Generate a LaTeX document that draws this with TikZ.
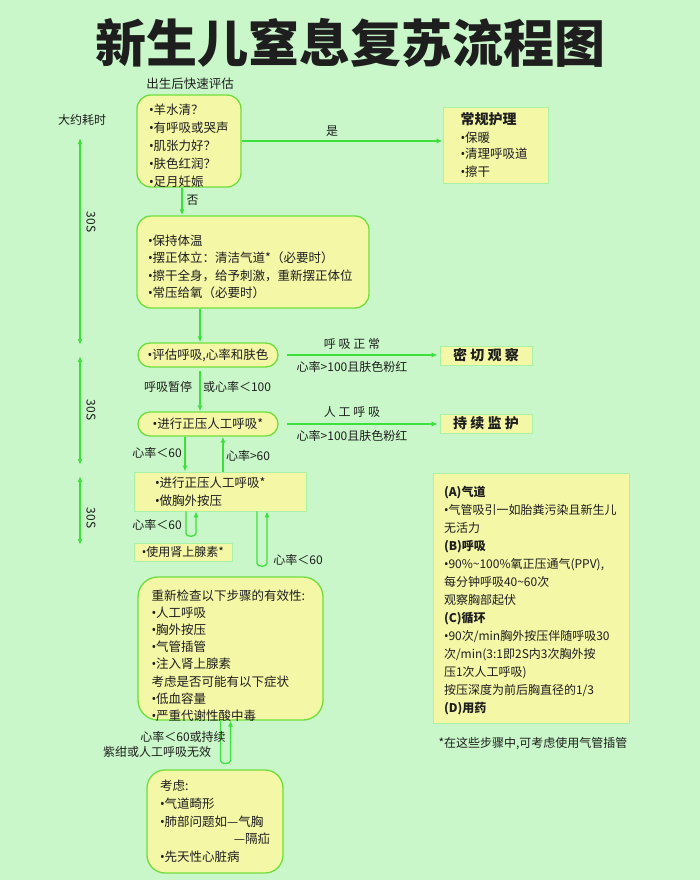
\documentclass[tikz,border=0pt]{standalone}
\usepackage{fontspec}
\setmainfont{Noto Sans CJK SC}
\newfontfamily\latinf{Noto Sans}
\newcommand{\dotb}{{\latinf •}}
\newcommand{\liftend}[1]{\par\vspace*{-#1}}
\usetikzlibrary{shapes,shapes.misc,arrows.meta}
\definecolor{bgg}{RGB}{201,247,201}
\definecolor{boxy}{RGB}{244,247,166}
\definecolor{edgeg}{RGB}{110,222,60}
\definecolor{arrg}{RGB}{60,225,60}
\definecolor{inkk}{RGB}{30,30,30}

\begin{document}
\begin{tikzpicture}[x=1pt,y=-1pt,>={Latex[length=6pt,width=5pt]},
  every node/.append style={font=\fontsize{12}{18}\selectfont,text=inkk},
  flow/.style={->,draw=arrg,line width=1.3pt}]
  \tikzstyle{rbox} = [draw=edgeg,line width=1.3pt,fill=boxy,rounded corners=14pt,align=left]
  \tikzstyle{pill} = [draw=edgeg,line width=1.3pt,fill=boxy,rounded rectangle,minimum width=140pt,minimum height=24pt,inner sep=0pt]
  \tikzstyle{sbox} = [draw=arrg!45,line width=0.7pt,fill=boxy,align=left]
  \tikzstyle{word} = [inner sep=1pt]
  \fill[bgg] (0,0) rectangle (700,880);
  \useasboundingbox (0,0) rectangle (700,880);
  % title
  \node (t_0) [word] at (350,43) {\fontsize{51}{51}\selectfont\bfseries 新生儿窒息复苏流程图};
  % main column
  \node (l_0) [word] at (190,84) {\fontsize{12.5}{14}\selectfont 出生后快速评估};
  \node (b_1) [rbox,minimum width=104pt,minimum height=92pt,text width=80pt,inner xsep=12pt]
    at (189,141) {\fontsize{12.5}{18}\selectfont \dotb{}羊水清？\\\dotb{}有呼吸或哭声\\\dotb{}肌张力好？\\\dotb{}肤色红润？\\\dotb{}足月妊娠\liftend{10pt}};
  \node (b_2) [rbox,minimum width=232pt,minimum height=92pt,text width=210pt,inner xsep=11pt]
    at (253,262) {\fontsize{12.5}{17.5}\selectfont \dotb{}保持体温\\\dotb{}摆正体立：清洁气道*（必要时）\\\dotb{}擦干全身，给予刺激，重新摆正体位\\\dotb{}常压给氧（必要时）\liftend{10pt}};
  \node (b_3) [pill] at (208,355) {\fontsize{12.5}{14}\selectfont \dotb{}评估呼吸,心率和肤色};
  \node (b_4) [pill] at (208,424) {\fontsize{12.5}{14}\selectfont \dotb{}进行正压人工呼吸*};
  \node (b_5) [sbox,minimum width=172pt,minimum height=39pt,text width=130pt,inner xsep=21pt]
    at (220,491.5) {\fontsize{12.5}{19}\selectfont \dotb{}进行正压人工呼吸*\\\dotb{}做胸外按压};
  \node (b_6) [sbox,minimum width=98pt,minimum height=18pt,inner sep=0pt] at (183,552) {\fontsize{12}{14}\selectfont \dotb{}使用肾上腺素*};
  \node (b_7) [rbox,rounded corners=20pt,minimum width=185pt,minimum height=143pt,text width=158pt,inner xsep=13.5pt]
    at (230.5,648.5) {\fontsize{12.5}{17.2}\selectfont 重新检查以下步骤的有效性:\\\dotb{}人工呼吸\\\dotb{}胸外按压\\\dotb{}气管插管\\\dotb{}注入肾上腺素\\考虑是否可能有以下症状\\\dotb{}低血容量\\\dotb{}严重代谢性酸中毒\liftend{14pt}};
  \node (b_8) [rbox,rounded corners=18pt,minimum width=136pt,minimum height=103pt,text width=110pt,inner xsep=13pt]
    at (215,821.5) {\fontsize{12.5}{17.8}\selectfont 考虑:\\\dotb{}气道畸形\\\dotb{}肺部问题如—气胸\\\hspace*{\fill}—隔疝\\\dotb{}先天性心脏病};
  % right column
  \node (r_1) [sbox,minimum width=105pt,minimum height=76pt,text width=70pt,inner xsep=17.5pt]
    at (495.5,145) {\fontsize{14}{19}\selectfont\bfseries 常规护理\\[2pt]\fontsize{12.5}{16}\selectfont\mdseries \dotb{}保暖\\\dotb{}清理呼吸道\\\dotb{}擦干};
  \node (m_1) [sbox,minimum width=92pt,minimum height=19pt,inner sep=0pt] at (486,355.5) {\fontsize{14}{16}\selectfont\bfseries 密 切 观 察};
  \node (m_2) [sbox,minimum width=92pt,minimum height=19pt,inner sep=0pt] at (486,423.5) {\fontsize{14}{16}\selectfont\bfseries 持 续 监 护};
  \node (r_2) [sbox,minimum width=196pt,minimum height=250pt,text width=174pt,inner xsep=11pt]
    at (531,598) {\fontsize{12}{18}\selectfont \textbf{(A)气道}\\\dotb{}气管吸引一如胎粪污染且新生儿\\无活力\\\textbf{(B)呼吸}\\\dotb{}90\%\textasciitilde100\%氧正压通气(PPV),\\每分钟呼吸40\textasciitilde60次\\观察胸部起伏\\\textbf{(C)循环}\\\dotb{}90次/min胸外按压伴随呼吸30\\次/min(3:1即2S内3次胸外按\\压1次人工呼吸)\\按压深度为前后胸直径的1/3\\\textbf{(D)用药}\liftend{6pt}};
  \node (r_3) [word] at (533,744) {*在这些步骤中,可考虑使用气管插管};
  % connectors
  \draw[flow] (b_1.east) -- (b_1.east -| r_1.west) node[word,pos=0.45,above=3pt] (l_1) {是};
  \draw[flow] ([xshift=-7pt]b_1.south) -- ([xshift=-7pt]b_1.south |- b_2.north) node[word,pos=0.45,right=3pt] (l_2) {否};
  \draw[flow] ([xshift=-53pt]b_2.south) -- ([xshift=-53pt]b_2.south |- b_3.north);
  \draw[flow] ([xshift=8pt]b_3.east) -- ([xshift=-2pt]b_3.east -| m_1.west);
  \node (l_3) [word] at (352,344) {呼 吸 正 常};
  \node (l_4) [word] at (352,367) {心率>100且肤色粉红};
  \draw[flow] ([xshift=-8pt,yshift=-3pt]b_3.south) -- ([xshift=-8pt]b_3.south |- b_4.north);
  \node (l_5) [word] at (168,387) {呼吸暂停};
  \node (l_6) [word] at (237,387) {或心率＜100};
  \draw[flow] ([xshift=8pt]b_4.east) -- ([xshift=-2pt]b_4.east -| m_2.west);
  \node (l_7) [word] at (352,412) {人 工 呼 吸};
  \node (l_8) [word] at (352,436) {心率>100且肤色粉红};
  \draw[flow] ([xshift=-23pt]b_4.south) -- ([xshift=-23pt]b_4.south |- b_5.north);
  \node (l_9) [word] at (157,453) {心率＜60};
  \draw[flow] ([xshift=3pt]b_5.north) -- ([xshift=3pt]b_5.north |- b_4.south);
  \node (l_10) [word] at (248,456) {心率>60};
  \draw[flow] ([xshift=-34pt]b_5.south) -- ++(0,22) to[out=-90,in=-90] ++(10,0) -- ([xshift=-24pt]b_5.south);
  \node (l_11) [word] at (157,525) {心率＜60};
  \draw[flow] ([xshift=37pt]b_5.south) -- ++(0,52) to[out=-90,in=-90] ++(10,0) -- ([xshift=47pt]b_5.south);
  \node (l_12) [word] at (298,560) {心率＜60};
  \draw[flow] ([xshift=-10pt]b_7.south) -- ++(0,40) to[out=-90,in=-90] ++(10,0) -- (b_7.south);
  \node (l_13) [word] at (183,737) {心率＜60或持续};
  \node (l_14) [word] at (157,752) {紫绀或人工呼吸无效};
  % time axis
  \node (l_15) [word] at (82,120) {大约耗时};
  \coordinate (t_1) at (80,138);
  \coordinate (t_2) at (80,345);
  \coordinate (t_3) at (80,356);
  \coordinate (t_4) at (80,465);
  \coordinate (t_5) at (80,476);
  \coordinate (t_6) at (80,545);
  \draw[flow,<->] (t_1) -- (t_2);
  \draw[flow,<->] (t_3) -- (t_4);
  \draw[flow,<->] (t_5) -- (t_6);
  \node (l_16) [word,rotate=-90] at (91,222) {30S};
  \node (l_17) [word,rotate=-90] at (91,410) {30S};
  \node (l_18) [word,rotate=-90] at (91,518) {30S};
\end{tikzpicture}
\end{document}
